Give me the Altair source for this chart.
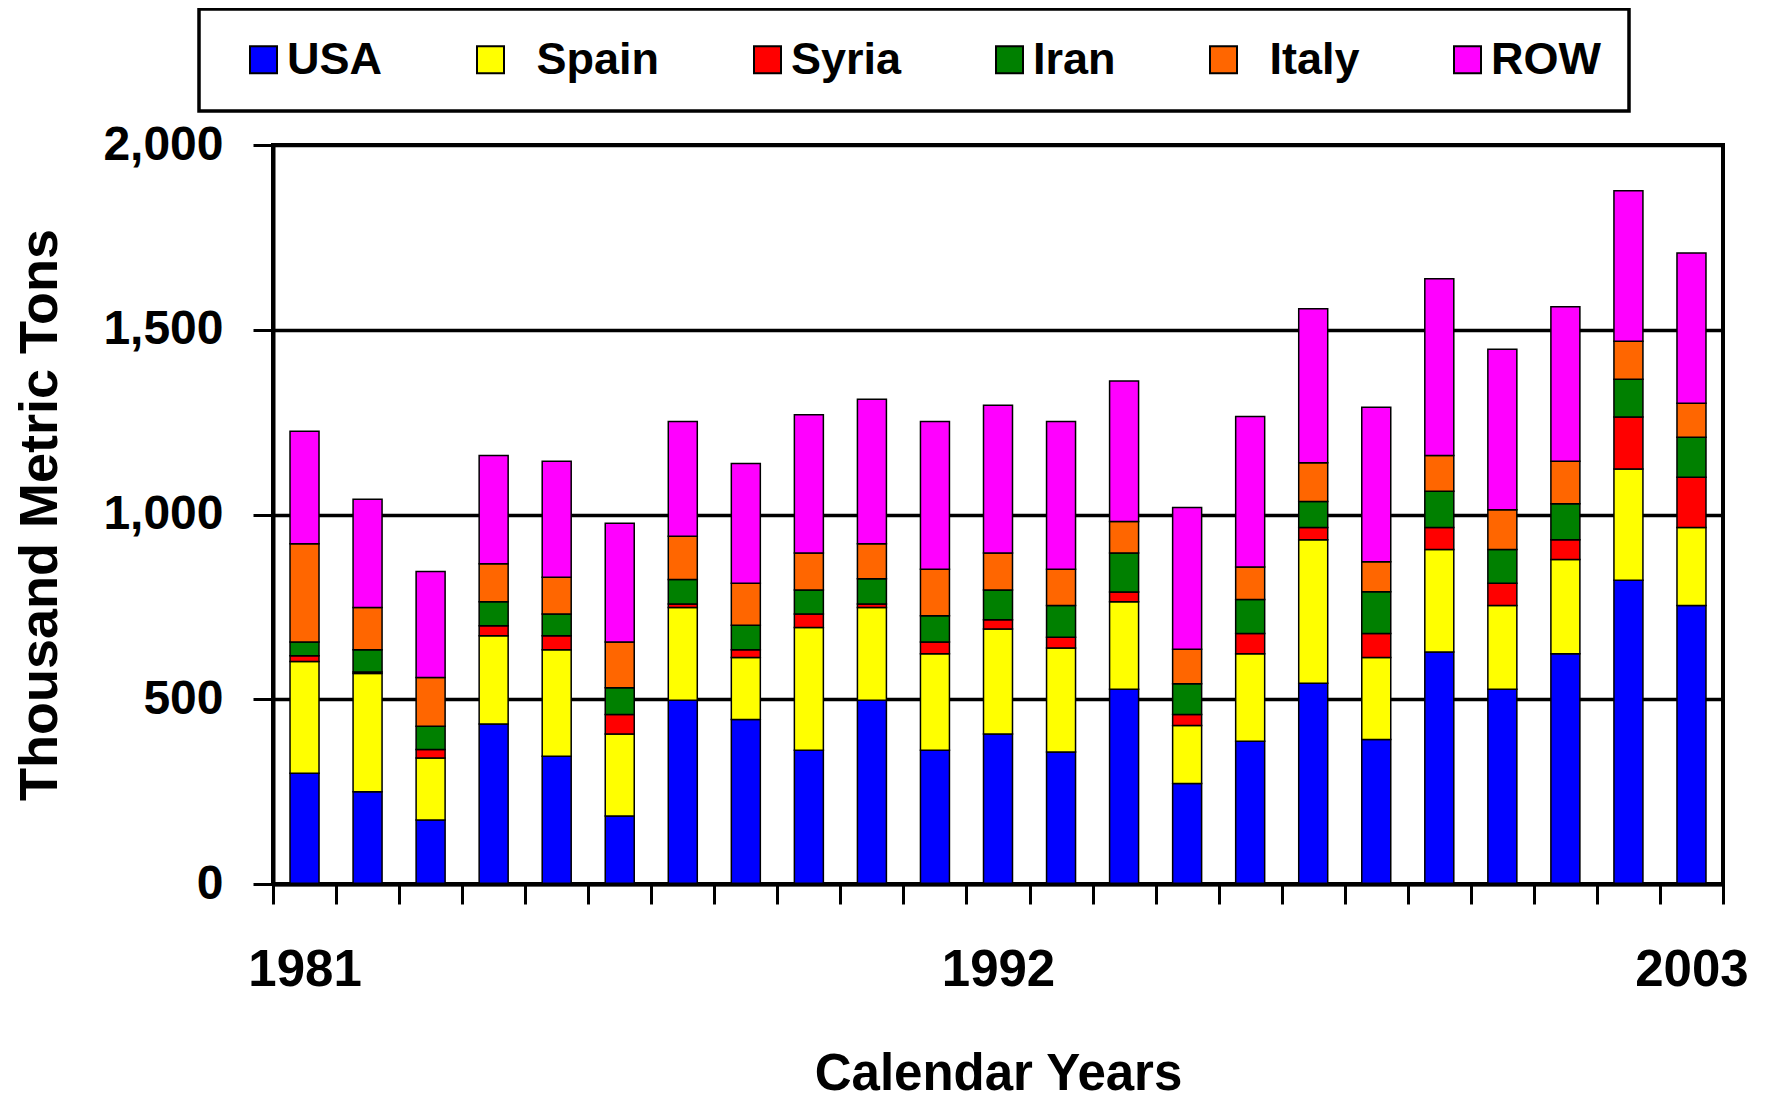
import altair as alt
import pandas as pd

years = ["1981", "1982", "1983", "1984", "1985", "1986", "1987", "1988",
         "1989", "1990", "1991", "1992", "1993", "1994", "1995", "1996",
         "1997", "1998", "1999", "2000", "2001", "2002", "2003"]

countries = ["USA", "Spain", "Syria", "Iran", "Italy", "ROW"]
colors = ["#0000FF", "#FFFF00", "#FF0000", "#008000", "#FF6600", "#FF00FF"]

usa = [300, 250, 173, 433, 346, 184, 497, 445, 362, 497, 362, 406, 357, 527, 272, 386, 543, 391, 628, 527, 623, 822, 754]
spain = [302, 320, 168, 239, 288, 222, 251, 168, 332, 251, 261, 284, 282, 237, 157, 237, 389, 222, 277, 227, 255, 301, 211]
syria = [16, 4, 23, 27, 38, 53, 10, 21, 37, 10, 32, 25, 29, 26, 30, 55, 33, 65, 60, 60, 54, 141, 136]
iran = [37, 60, 63, 65, 59, 72, 66, 66, 65, 68, 71, 81, 86, 106, 83, 92, 70, 113, 98, 91, 97, 102, 108]
italy = [266, 114, 132, 103, 99, 124, 117, 114, 100, 95, 126, 100, 98, 85, 93, 88, 105, 81, 97, 108, 115, 103, 92]
row = [304, 293, 287, 293, 314, 321, 311, 324, 374, 391, 400, 400, 400, 380, 384, 407, 417, 418, 478, 434, 418, 407, 407]

series = [usa, spain, syria, iran, italy, row]
records = []
for ci, (name, vals) in enumerate(zip(countries, series)):
    for y, v in zip(years, vals):
        records.append({"Year": y, "Country": name, "Value": v, "Order": ci})
df = pd.DataFrame(records)

FONT = "Liberation Sans"
SP = "\u200b\u2002"

label_expr = ("datum.label == 'Spain' || datum.label == 'Italy' ? '" + SP
              + "' + datum.label : datum.label")

chart = alt.Chart(df).mark_bar(
    stroke="black", strokeWidth=1.5, width={"band": 0.46}
).encode(
    x=alt.X(
        "Year:O",
        sort=years,
        scale=alt.Scale(paddingInner=0, paddingOuter=0),
        axis=alt.Axis(
            title="Calendar Years",
            labelExpr="indexof(['1981','1992','2003'], datum.label) >= 0 ? datum.label : ''",
            labelAngle=0,
            labelOverlap=False,
            tickBand="extent",
            tickSize=20,
            tickWidth=3,
            tickColor="black",
            domainColor="black",
            domainWidth=4,
            labelFont=FONT,
            labelFontWeight="bold",
            labelFontSize=51,
            labelPadding=41,
            labelColor="black",
            titleFont=FONT,
            titleFontWeight="bold",
            titleFontSize=51,
            titleColor="black",
            titleBaseline="alphabetic",
            titleY=205,
            grid=False,
            zindex=1,
        ),
    ),
    y=alt.Y(
        "Value:Q",
        stack="zero",
        scale=alt.Scale(domain=[0, 2000], nice=False),
        axis=alt.Axis(
            title="Thousand Metric Tons",
            values=[0, 500, 1000, 1500, 2000],
            format=",.0f",
            tickSize=20,
            tickWidth=3,
            tickColor="black",
            domainColor="black",
            domainWidth=4,
            labelFont=FONT,
            labelFontWeight="bold",
            labelFontSize=48,
            labelPadding=30,
            labelColor="black",
            grid=True,
            gridColor="black",
            gridWidth=3.5,
            gridOpacity=1,
            titleFont=FONT,
            titleFontWeight="bold",
            titleFontSize=54,
            titleColor="black",
            titleBaseline="alphabetic",
            titleX=-217,
            titleY=369.5,
        ),
    ),
    color=alt.Color(
        "Country:N",
        scale=alt.Scale(domain=countries, range=colors),
        legend=alt.Legend(
            orient="none",
            legendX=-74,
            legendY=-136,
            direction="horizontal",
            columns=6,
            title="\u00a0",
            titleOrient="left",
            titleFontSize=30,
            titlePadding=14,
            symbolType="square",
            symbolSize=729,
            symbolStrokeColor="black",
            symbolStrokeWidth=2,
            symbolOpacity=1,
            labelFont=FONT,
            labelFontWeight="bold",
            labelFontSize=45,
            labelColor="black",
            labelOffset=1,
            labelLimit=300,
            labelExpr=label_expr,
            columnPadding=85,
            padding=28,
            fillColor="white",
            strokeColor="black",
        ),
    ),
    order=alt.Order("Order:Q", sort="ascending"),
).properties(
    width=1450,
    height=739,
    autosize=alt.AutoSizeParams(type="none"),
    padding={"left": 265, "top": 137, "right": 30, "bottom": 215},
).configure(
    font=FONT,
    background="white",
).configure_view(
    stroke="black",
    strokeWidth=4,
).configure_legend(
    strokeWidth=3.5,
)

chart.save("out.html", embed_options={"renderer": "svg", "actions": False})
